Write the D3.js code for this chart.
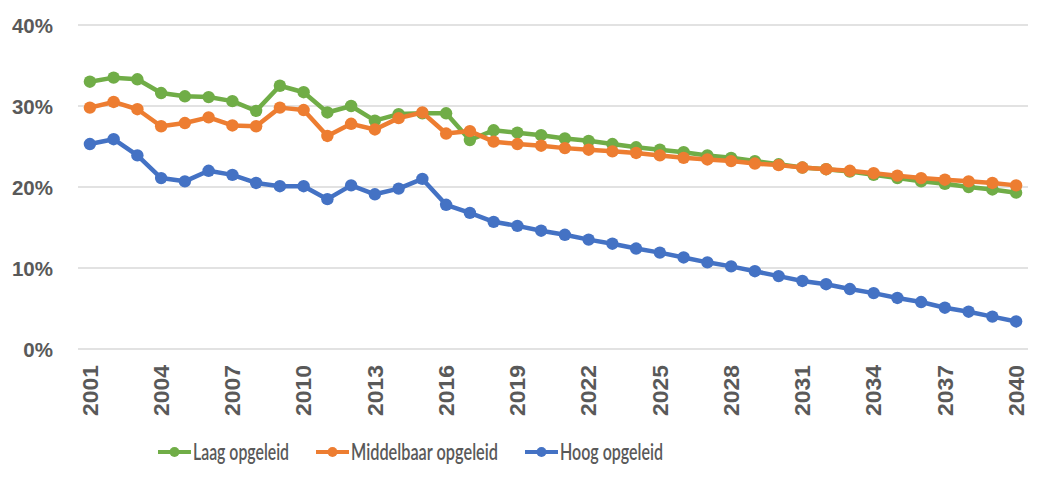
<!DOCTYPE html>
<html>
<head>
<meta charset="utf-8">
<script src="https://cdn.jsdelivr.net/npm/d3@7"></script>
<style>
  html, body { margin: 0; padding: 0; background: #fff; }
  svg { display: block; }
</style>
</head>
<body>
<svg id="chart" width="1051" height="484"></svg>
<script>
const years = d3.range(2001, 2041);
const yTicks = [0, 0.1, 0.2, 0.3, 0.4];
const xTickYears = [2001, 2004, 2007, 2010, 2013, 2016, 2019, 2022, 2025, 2028, 2031, 2034, 2037, 2040];

const laag = [33.0, 33.5, 33.3, 31.6, 31.2, 31.1, 30.6, 29.4, 32.5, 31.7,
              29.2, 30.0, 28.2, 29.0, 29.1, 29.1, 25.8, 27.0, 26.7, 26.4,
              26.0, 25.7, 25.3, 24.9, 24.6, 24.3, 23.9, 23.6, 23.2, 22.8,
              22.4, 22.2, 21.9, 21.5, 21.1, 20.7, 20.4, 20.0, 19.7, 19.3];
const middel = [29.8, 30.5, 29.6, 27.5, 27.9, 28.6, 27.6, 27.5, 29.8, 29.5,
                26.3, 27.8, 27.1, 28.5, 29.2, 26.6, 26.9, 25.6, 25.3, 25.1,
                24.8, 24.6, 24.4, 24.2, 23.9, 23.6, 23.4, 23.2, 22.9, 22.7,
                22.4, 22.2, 22.0, 21.7, 21.4, 21.1, 20.9, 20.7, 20.5, 20.2];
const hoog = [25.3, 25.9, 23.9, 21.1, 20.7, 22.0, 21.5, 20.5, 20.1, 20.1,
              18.5, 20.2, 19.1, 19.8, 21.0, 17.8, 16.8, 15.7, 15.2, 14.6,
              14.1, 13.5, 13.0, 12.4, 11.9, 11.3, 10.7, 10.2, 9.6, 9.0,
              8.4, 8.0, 7.4, 6.9, 6.3, 5.8, 5.1, 4.6, 4.0, 3.4];

const seriesNames = ["Laag opgeleid", "Middelbaar opgeleid", "Hoog opgeleid"];
const seriesColors = ["#70AD47", "#ED7D31", "#4472C4"];
const seriesValues = [laag, middel, hoog];

(function () {
const svg = d3.select("#chart");
const mLeft = 78, mRight = 1028, mTop = 25, mBottom = 349;

const x = d3.scaleBand().domain(years).range([mLeft, mRight]);
const y = d3.scaleLinear().domain([0, 0.4]).range([mBottom, mTop]);

// gridlines
svg.append("g").selectAll("line").data(yTicks).join("line")
  .attr("x1", mLeft).attr("x2", mRight)
  .attr("y1", d => y(d)).attr("y2", d => y(d))
  .attr("stroke", "#d9d9d9").attr("stroke-width", 1.5);

// y axis labels
const yAxis = d3.axisLeft(y).tickValues(yTicks).tickFormat(d3.format(".0%")).tickSize(0).tickPadding(0);
const gy = svg.append("g").attr("transform", "translate(53,0)").call(yAxis);
gy.select(".domain").remove();
gy.selectAll("text")
  .attr("font-family", "'Liberation Sans', Arial, sans-serif")
  .attr("font-weight", "bold")
  .attr("font-size", "20.5px")
  .attr("fill", "#595959")
  .attr("dy", "0.36em");

// x axis labels
const xAxis = d3.axisBottom(x).tickValues(xTickYears).tickSize(0).tickPadding(0);
const gx = svg.append("g").attr("transform", `translate(0,${mBottom})`).call(xAxis);
gx.select(".domain").remove();
gx.selectAll("text")
  .attr("font-family", "'Liberation Sans', Arial, sans-serif")
  .attr("font-weight", "bold")
  .attr("font-size", "21.5px")
  .attr("fill", "#595959")
  .attr("text-anchor", "end")
  .attr("transform", "rotate(-90)")
  .attr("x", -16)
  .attr("y", 0)
  .attr("dy", "0.36em")
  .attr("textLength", 51)
  .attr("lengthAdjust", "spacingAndGlyphs");

// lines and markers
const line = d3.line()
  .x((d, i) => x(years[i]) + x.bandwidth() / 2)
  .y(d => y(d / 100));

seriesValues.forEach((vals, si) => {
  const g = svg.append("g");
  g.append("path").datum(vals)
    .attr("d", line)
    .attr("fill", "none")
    .attr("stroke", seriesColors[si])
    .attr("stroke-width", 4.5)
    .attr("stroke-linejoin", "round");
  g.selectAll("circle").data(vals).join("circle")
    .attr("cx", (d, i) => x(years[i]) + x.bandwidth() / 2)
    .attr("cy", d => y(d / 100))
    .attr("r", 6.2)
    .attr("fill", seriesColors[si]);
});

// legend
const legendX = [158, 316, 525];
const legendTextLen = [96, 147, 103];
const legendY = 452;
const legend = svg.append("g");
seriesNames.forEach((name, i) => {
  const g = legend.append("g").attr("transform", `translate(${legendX[i]},${legendY})`);
  g.append("line").attr("x1", 0).attr("x2", 33).attr("y1", 0).attr("y2", 0)
    .attr("stroke", seriesColors[i]).attr("stroke-width", 4);
  g.append("circle").attr("cx", 16.5).attr("cy", 0).attr("r", 5).attr("fill", seriesColors[i]);
  g.append("text").attr("x", 35).attr("y", 0).attr("dy", "0.36em")
    .attr("font-family", "Lato, 'Open Sans', sans-serif")
    .attr("font-size", "22px")
    .attr("font-weight", "600")
    .attr("fill", "#595959")
    .attr("textLength", legendTextLen[i])
    .attr("lengthAdjust", "spacingAndGlyphs")
    .text(name);
});
})();
</script>
</body>
</html>
